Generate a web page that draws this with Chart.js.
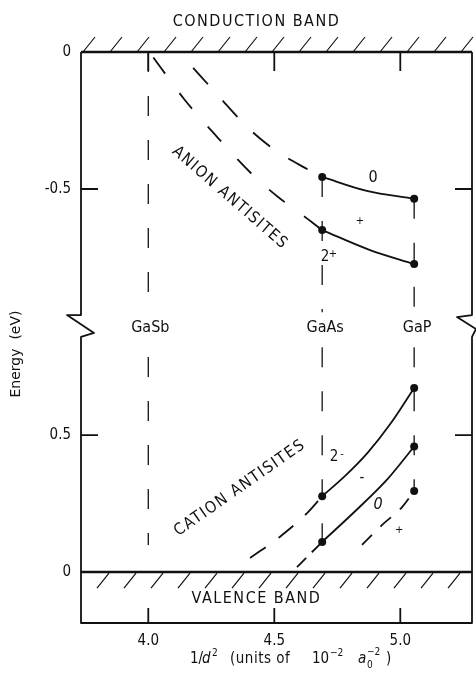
<!DOCTYPE html>
<html>
<head>
<meta charset="utf-8">
<script src="https://cdn.jsdelivr.net/npm/chart.js@4.4.0/dist/chart.umd.min.js"></script>
<style>
  html, body { margin: 0; padding: 0; background: #fff; }
  #wrap { width: 476px; height: 677px; }
</style>
</head>
<body>
<div id="wrap"><canvas id="c"></canvas></div>
<script>
const F_DRAFT = "'DejaVu Sans Condensed','Liberation Sans Narrow','DejaVu Sans',sans-serif";
const F_PLAIN = "'DejaVu Sans',sans-serif";
const INK = '#111';

// broken energy axis: CB-referenced part on top, VB-referenced part shifted down by VB_OFFSET
const VB_OFFSET = 1.898;
const Y_MIN = -2.084;
const X_MIN = 3.733, X_MAX = 5.2845;
const BREAK_CB = -0.96;   // where the upper part stops (eV vs CB)
const BREAK_VB = 0.858;   // where the lower part resumes (eV vs VB)

const X_TICKS = [4.0, 4.5, 5.0];
const CB_TICKS = [0, -0.5];
const VB_TICKS = [0.5, 0];

const MATERIALS = ['GaSb', 'GaAs', 'GaP'];
const MAT_X = [4.0, 4.69, 5.055];

// anion antisites, eV relative to conduction band
const ANION_0_DASH  = [[4.178, -0.058], [4.293, -0.175], [4.396, -0.277], [4.503, -0.358], [4.622, -0.423], [4.69, -0.456]];
const ANION_0       = [[4.69, -0.456], [4.867, -0.507], [5.055, -0.536]];
const ANION_2P_DASH = [[4.02, -0.02], [4.145, -0.175], [4.277, -0.314], [4.415, -0.449], [4.515, -0.529], [4.622, -0.602], [4.69, -0.65]];
const ANION_2P      = [[4.69, -0.65], [4.88, -0.723], [5.055, -0.774]];

// cation antisites, eV relative to valence band
const CATION_2M_DASH  = [[4.404, 0.051], [4.531, 0.135], [4.634, 0.219], [4.69, 0.277]];
const CATION_2M       = [[4.69, 0.277], [4.78, 0.35], [4.87, 0.435], [4.96, 0.54], [5.055, 0.672]];
const CATION_MID_DASH = [[4.59, 0.018], [4.69, 0.11]];
const CATION_MID      = [[4.69, 0.11], [4.83, 0.23], [4.95, 0.34], [5.055, 0.458]];
const CATION_LOW_DASH = [[4.848, 0.099], [4.928, 0.172], [5.007, 0.237], [5.055, 0.296]];

// vertical guide lines per material: [from, to]
const GUIDE_CB = [[0, -0.88], [-0.456, -0.95], [-0.536, -0.95]];
const GUIDE_VB = [[0.785, 0.099], [0.82, 0.11], [0.82, 0.296]];

// charge-state labels: text, x, energy, band
const CHARGE_LABELS = [
  ['0', 4.892, -0.46, 'cb'], ['+', 4.84, -0.617, 'cb'], ['2+', 4.713, -0.748, 'cb'],
  ['2-', 4.749, 0.42, 'vb'], ['-', 4.848, 0.343, 'vb'], ['0', 4.912, 0.245, 'vb'], ['+', 4.995, 0.153, 'vb']
];

const cbPts = a => a.map(p => ({ x: p[0], y: p[1] }));
const vbPts = a => a.map(p => ({ x: p[0], y: p[1] - VB_OFFSET }));

// dots sit on the compound values only: ends of the solid pieces, last point of dashed ones if asked
function dots(data, first, last) {
  return data.map((_, i) => (i === 0 && first) || (i === data.length - 1 && last) ? 4 : 0);
}
function curve(data, dash, first, last) {
  return {
    data, borderColor: INK, borderWidth: 1.8, borderDash: dash,
    cubicInterpolationMode: 'monotone', fill: false,
    pointRadius: dots(data, first, last), pointBackgroundColor: INK, pointBorderWidth: 0
  };
}
function guide(xv, a, b) {
  return { data: [{ x: xv, y: a }, { x: xv, y: b }], borderColor: INK, borderWidth: 1.3,
    borderDash: [20, 24], tension: 0, pointRadius: 0, fill: false };
}

const datasets = [
  curve(cbPts(ANION_0_DASH), [22, 22], false, false),
  curve(cbPts(ANION_0), [], true, true),
  curve(cbPts(ANION_2P_DASH), [20, 24], false, false),
  curve(cbPts(ANION_2P), [], true, true),
  curve(vbPts(CATION_2M_DASH), [19, 16], false, false),
  curve(vbPts(CATION_2M), [], true, true),
  curve(vbPts(CATION_MID_DASH), [13, 8], false, false),
  curve(vbPts(CATION_MID), [], true, true),
  curve(vbPts(CATION_LOW_DASH), [14, 12], false, true)
];
MAT_X.forEach((xv, i) => {
  datasets.push(guide(xv, GUIDE_CB[i][0], GUIDE_CB[i][1]));
  datasets.push(guide(xv, GUIDE_VB[i][0] - VB_OFFSET, GUIDE_VB[i][1] - VB_OFFSET));
});

const Y_TICK_VALUES = CB_TICKS.concat(VB_TICKS.map(e => e - VB_OFFSET));
const Y_TICK_TEXT = CB_TICKS.concat(VB_TICKS).map(e => e === 0 ? '0' : String(e));

function text(ctx, s, x, y, font, align, rot, spacing) {
  ctx.save();
  ctx.translate(x, y);
  if (rot) ctx.rotate(rot * Math.PI / 180);
  ctx.font = font;
  ctx.letterSpacing = spacing || '0px';
  ctx.textAlign = align || 'center';
  ctx.textBaseline = 'middle';
  ctx.fillStyle = INK;
  ctx.fillText(s, 0, 0);
  ctx.restore();
}

const framePlugin = {
  id: 'frame',
  afterDatasetsDraw(chart) {
    const { ctx, chartArea: a, scales: { x, y } } = chart;
    const yCB = y.getPixelForValue(0), yVB = y.getPixelForValue(-VB_OFFSET);
    const yB1 = y.getPixelForValue(BREAK_CB), yB2 = y.getPixelForValue(BREAK_VB - VB_OFFSET);
    const L = a.left, R = a.right;
    ctx.save();
    ctx.strokeStyle = INK;
    ctx.lineJoin = 'round';
    // sides with the axis break, and bottom
    ctx.lineWidth = 1.8;
    ctx.beginPath();
    ctx.moveTo(L, yCB); ctx.lineTo(L, yB1); ctx.lineTo(L - 14, yB1); ctx.lineTo(L + 13, yB2 - 4); ctx.lineTo(L, yB2);
    ctx.lineTo(L, a.bottom); ctx.lineTo(R, a.bottom); ctx.lineTo(R, yB2);
    ctx.lineTo(R + 4, yB2 - 8); ctx.lineTo(R - 15, yB1 + 2); ctx.lineTo(R, yB1); ctx.lineTo(R, yCB);
    ctx.stroke();
    // band edges
    ctx.lineWidth = 2.6;
    ctx.beginPath();
    ctx.moveTo(L, yCB); ctx.lineTo(R, yCB);
    ctx.moveTo(L, yVB); ctx.lineTo(R, yVB);
    ctx.stroke();
    // hatching
    ctx.lineWidth = 1.2;
    ctx.beginPath();
    for (let hx = L + 2; hx < R - 5; hx += 27) { ctx.moveTo(hx, yCB); ctx.lineTo(hx + 12, yCB - 15); }
    for (let hx = L + 16; hx < R - 10; hx += 27) { ctx.moveTo(hx, yVB + 16); ctx.lineTo(hx + 12, yVB + 1); }
    ctx.stroke();
    // inward ticks
    ctx.lineWidth = 1.8;
    ctx.beginPath();
    X_TICKS.forEach(v => {
      const px = x.getPixelForValue(v);
      ctx.moveTo(px, a.top); ctx.lineTo(px, a.top + 19);
      ctx.moveTo(px, a.bottom); ctx.lineTo(px, a.bottom - 15);
    });
    Y_TICK_VALUES.forEach((v, i) => {
      if (Y_TICK_TEXT[i] === '0') return;
      const py = y.getPixelForValue(v);
      ctx.moveTo(L, py); ctx.lineTo(L + 17, py);
      ctx.moveTo(R, py); ctx.lineTo(R - 17, py);
    });
    ctx.stroke();
    ctx.restore();
  },
  afterDraw(chart) {
    const { ctx, chartArea: a, scales: { x, y } } = chart;
    const midX = (a.left + a.right) / 2 - 20;
    const yB1 = y.getPixelForValue(BREAK_CB), yB2 = y.getPixelForValue(BREAK_VB - VB_OFFSET);
    const yMat = (yB1 + yB2) / 2;
    const F16 = "16px " + F_DRAFT;
    text(ctx, 'CONDUCTION BAND', midX, 22, F16, 'center', 0, '1.5px');
    text(ctx, 'VALENCE BAND', midX, y.getPixelForValue(-VB_OFFSET) + 27, F16, 'center', 0, '1.5px');
    MATERIALS.forEach((m, i) => text(ctx, m, x.getPixelForValue(MAT_X[i]) + (i === 0 ? 2 : 3), yMat + 2, F16));
    text(ctx, 'ANION ANTISITES', 230, 198, F16, 'center', 41, '1.5px');
    text(ctx, 'CATION ANTISITES', 240, 488, F16, 'center', -35, '1.5px');
    CHARGE_LABELS.forEach(([s, xv, e, band]) => {
      const px = x.getPixelForValue(xv), py = y.getPixelForValue(band === 'cb' ? e : e - VB_OFFSET);
      if (s === '+') { text(ctx, '+', px, py, '11px ' + F_DRAFT); return; }
      if (s === '-') { text(ctx, '-', px, py, '15px ' + F_DRAFT); return; }
      if (s.length === 2) {
        text(ctx, s[0], px - 3, py, '15px ' + F_DRAFT);
        text(ctx, s[1], px + 5, py - 3, '11px ' + F_DRAFT);
        return;
      }
      text(ctx, s, px, py, (band === 'vb' ? 'italic ' : '') + '16px ' + F_DRAFT);
    });
    // axis titles
    text(ctx, 'Energy  (eV)', 16, 354, '14px ' + F_PLAIN, 'center', -90);
    const base = 659, F15 = '15px ' + F_DRAFT, Fs = '10px ' + F_DRAFT;
    text(ctx, '1/', 190, base, F15, 'left');
    text(ctx, 'd', 202, base, 'italic ' + F15, 'left');
    text(ctx, '2', 212, base - 6, Fs, 'left');
    text(ctx, '(units of', 230, base, F15, 'left', 0, '0.5px');
    text(ctx, '10', 312, base, F15, 'left');
    text(ctx, '\u22122', 330, base - 6, Fs, 'left');
    text(ctx, 'a', 358, base, 'italic ' + F15, 'left');
    text(ctx, '0', 367, base + 6, Fs, 'left');
    text(ctx, '\u22122', 367, base - 7, Fs, 'left');
    text(ctx, ')', 386, base, F15, 'left');
  }
};

new Chart(document.getElementById('c'), {
  type: 'line',
  data: { datasets },
  options: {
    responsive: true, maintainAspectRatio: false, animation: false,
    layout: { padding: { top: 52, right: 4, left: 0, bottom: 0 } },
    plugins: { legend: { display: false }, tooltip: { enabled: false } },
    scales: {
      x: {
        type: 'linear', min: X_MIN, max: X_MAX,
        afterBuildTicks: s => { s.ticks = X_TICKS.map(v => ({ value: v })); },
        afterFit: s => { s.height = 54; },
        grid: { display: false, drawTicks: false }, border: { display: false },
        ticks: { color: INK, font: { family: F_DRAFT, size: 15 }, padding: 9, maxRotation: 0, autoSkip: false,
          callback: v => Number(v).toFixed(1) }
      },
      y: {
        type: 'linear', min: Y_MIN, max: 0,
        afterBuildTicks: s => { s.ticks = Y_TICK_VALUES.map(v => ({ value: v })); },
        afterFit: s => { s.width = 81; },
        grid: { display: false, drawTicks: false }, border: { display: false },
        ticks: { color: INK, font: { family: F_DRAFT, size: 15 }, padding: 10, autoSkip: false,
          callback: (v, i) => Y_TICK_TEXT[i] }
      }
    }
  },
  plugins: [framePlugin]
});
</script>
</body>
</html>
